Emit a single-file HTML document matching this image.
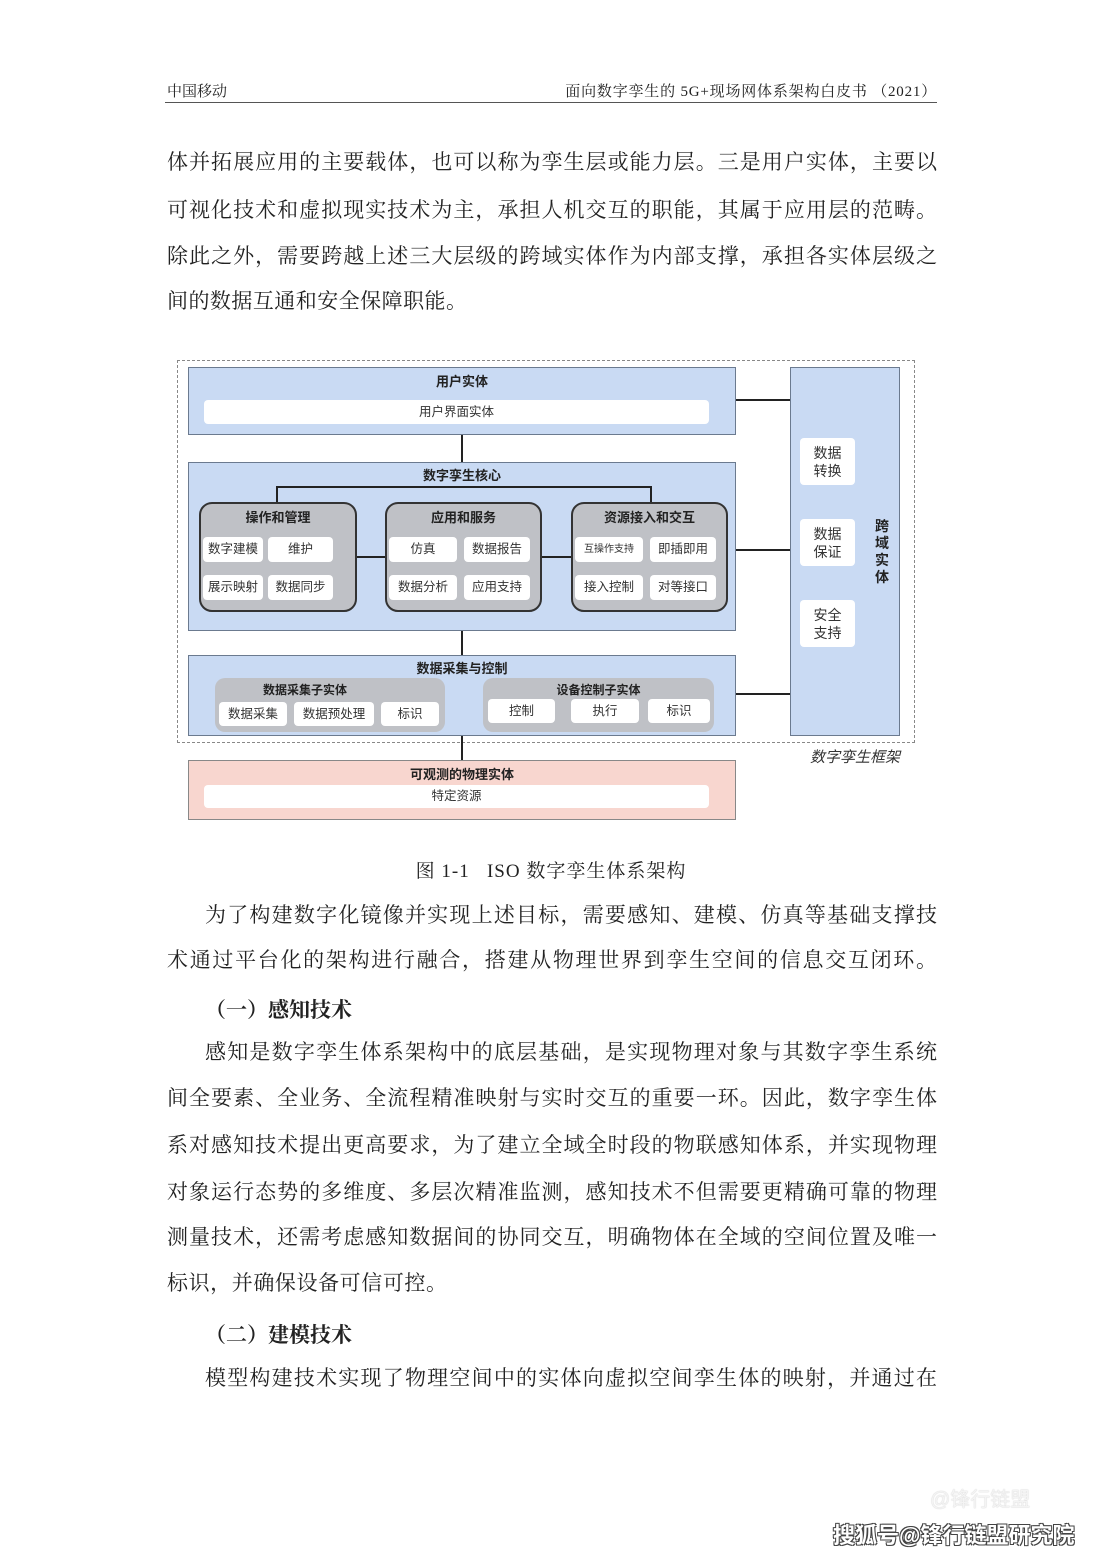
<!DOCTYPE html>
<html><head><meta charset="utf-8"><style>
body{margin:0;background:#fff;}
#p{position:relative;width:1102px;height:1559px;overflow:hidden;background:#fff;font-family:"Liberation Serif","Noto Serif CJK SC",serif;color:#222;}
.a{position:absolute;}
.l{position:absolute;left:167px;width:770px;font-size:21px;line-height:24px;text-align:justify;text-align-last:justify;white-space:nowrap;}
.i{left:205px;width:732px;}
.s{font-family:"Liberation Sans","Noto Sans CJK SC",sans-serif;}
.bx{position:absolute;box-sizing:border-box;border:1.5px solid #6b7a8f;background:#c9daf3;}
.t{position:absolute;font-family:"Liberation Sans","Noto Sans CJK SC",sans-serif;font-weight:bold;font-size:13px;color:#222;text-align:center;}
.w{position:absolute;background:#fff;border-radius:4px;font-family:"Liberation Sans","Noto Sans CJK SC",sans-serif;font-size:12.5px;color:#333;text-align:center;box-sizing:border-box;}
.g{position:absolute;background:#bfc1c6;border:2px solid #333;border-radius:13px;box-sizing:border-box;}
.g2{position:absolute;background:#bfc1c6;border-radius:10px;}
.hl{position:absolute;background:#222;height:2px;}
.vl{position:absolute;background:#222;width:2px;}
</style></head><body><div id="p">
<div class="a" style="left:167px;top:80px;font-size:15px;">中国移动</div>
<div class="a" style="left:540px;top:80px;font-size:15px;width:397px;text-align:right;letter-spacing:0.8px;">面向数字孪生的 5G+现场网体系架构白皮书 （2021）</div>
<div class="a" style="left:165px;top:102px;width:772px;height:1px;background:#555;"></div>

<div class="l" style="top:150px">体并拓展应用的主要载体，也可以称为孪生层或能力层。三是用户实体，主要以</div>
<div class="l" style="top:198px">可视化技术和虚拟现实技术为主，承担人机交互的职能，其属于应用层的范畴。</div>
<div class="l" style="top:244px">除此之外，需要跨越上述三大层级的跨域实体作为内部支撑，承担各实体层级之</div>
<div class="l" style="top:289px;width:300px;text-align-last:justify">间的数据互通和安全保障职能。</div>

<!-- diagram -->
<div class="a" style="left:177px;top:360px;width:736px;height:381px;border:1px dashed #888;"></div>
<div class="bx" style="left:188px;top:367px;width:548px;height:68px;"></div>
<div class="t" style="left:188px;top:371px;width:548px;">用户实体</div>
<div class="w" style="left:204px;top:400px;width:505px;height:24px;line-height:24px;">用户界面实体</div>
<div class="vl" style="left:461px;top:435px;height:27px;"></div>

<div class="bx" style="left:188px;top:462px;width:548px;height:169px;"></div>
<div class="t" style="left:188px;top:465px;width:548px;">数字孪生核心</div>
<div class="hl" style="left:276px;top:486px;width:376px;"></div>
<div class="vl" style="left:276px;top:486px;height:16px;"></div>
<div class="vl" style="left:650px;top:486px;height:16px;"></div>
<div class="hl" style="left:357px;top:556px;width:28px;"></div>
<div class="hl" style="left:542px;top:556px;width:29px;"></div>

<div class="g" style="left:199px;top:502px;width:158px;height:110px;"></div>
<div class="t" style="left:199px;top:507px;width:158px;">操作和管理</div>
<div class="w" style="left:203px;top:537px;width:60px;height:25px;line-height:25px;">数字建模</div>
<div class="w" style="left:268px;top:537px;width:65px;height:25px;line-height:25px;">维护</div>
<div class="w" style="left:203px;top:575px;width:60px;height:25px;line-height:25px;">展示映射</div>
<div class="w" style="left:268px;top:575px;width:65px;height:25px;line-height:25px;">数据同步</div>

<div class="g" style="left:385px;top:502px;width:157px;height:110px;"></div>
<div class="t" style="left:385px;top:507px;width:157px;">应用和服务</div>
<div class="w" style="left:389px;top:537px;width:68px;height:25px;line-height:25px;">仿真</div>
<div class="w" style="left:464px;top:537px;width:66px;height:25px;line-height:25px;">数据报告</div>
<div class="w" style="left:389px;top:575px;width:68px;height:25px;line-height:25px;">数据分析</div>
<div class="w" style="left:464px;top:575px;width:66px;height:25px;line-height:25px;">应用支持</div>

<div class="g" style="left:571px;top:502px;width:157px;height:110px;"></div>
<div class="t" style="left:571px;top:507px;width:157px;">资源接入和交互</div>
<div class="w" style="left:575px;top:537px;width:68px;height:25px;line-height:25px;font-size:10px;">互操作支持</div>
<div class="w" style="left:650px;top:537px;width:66px;height:25px;line-height:25px;">即插即用</div>
<div class="w" style="left:575px;top:575px;width:68px;height:25px;line-height:25px;">接入控制</div>
<div class="w" style="left:650px;top:575px;width:66px;height:25px;line-height:25px;">对等接口</div>

<div class="vl" style="left:461px;top:631px;height:24px;"></div>
<div class="bx" style="left:188px;top:655px;width:548px;height:81px;"></div>
<div class="t" style="left:188px;top:658px;width:548px;">数据采集与控制</div>
<div class="g2" style="left:215px;top:678px;width:230px;height:54px;"></div>
<div class="t" style="left:215px;top:681px;width:180px;font-size:12px;">数据采集子实体</div>
<div class="w" style="left:219px;top:702px;width:68px;height:24px;line-height:24px;">数据采集</div>
<div class="w" style="left:294px;top:702px;width:80px;height:24px;line-height:24px;">数据预处理</div>
<div class="w" style="left:381px;top:702px;width:58px;height:24px;line-height:24px;">标识</div>
<div class="g2" style="left:483px;top:678px;width:231px;height:54px;"></div>
<div class="t" style="left:483px;top:681px;width:231px;font-size:12px;">设备控制子实体</div>
<div class="w" style="left:488px;top:699px;width:67px;height:24px;line-height:24px;">控制</div>
<div class="w" style="left:571px;top:699px;width:68px;height:24px;line-height:24px;">执行</div>
<div class="w" style="left:648px;top:699px;width:62px;height:24px;line-height:24px;">标识</div>

<div class="vl" style="left:461px;top:736px;height:24px;"></div>
<div class="bx" style="left:188px;top:760px;width:548px;height:60px;background:#f8d6cf;border-color:#888;"></div>
<div class="t" style="left:188px;top:764px;width:548px;">可观测的物理实体</div>
<div class="w" style="left:204px;top:785px;width:505px;height:23px;line-height:23px;">特定资源</div>

<div class="hl" style="left:736px;top:399px;width:54px;"></div>
<div class="hl" style="left:736px;top:549px;width:54px;"></div>
<div class="hl" style="left:736px;top:693px;width:54px;"></div>
<div class="bx" style="left:790px;top:367px;width:110px;height:369px;"></div>
<div class="w" style="left:800px;top:438px;width:55px;height:47px;padding-top:6px;line-height:18px;font-size:14px;">数据<br>转换</div>
<div class="w" style="left:800px;top:519px;width:55px;height:47px;padding-top:6px;line-height:18px;font-size:14px;">数据<br>保证</div>
<div class="w" style="left:800px;top:600px;width:55px;height:47px;padding-top:6px;line-height:18px;font-size:14px;">安全<br>支持</div>
<div class="t" style="left:874px;top:518px;width:16px;font-size:14px;line-height:17px;">跨<br>域<br>实<br>体</div>
<div class="a s" style="left:810px;top:746px;font-size:15px;font-style:italic;color:#333;">数字孪生框架</div>

<div class="a" style="left:0;top:856px;width:1102px;text-align:center;font-size:19px;letter-spacing:1px;">图 1-1&nbsp;&nbsp;&nbsp;ISO 数字孪生体系架构</div>

<div class="l i" style="top:903px">为了构建数字化镜像并实现上述目标，需要感知、建模、仿真等基础支撑技</div>
<div class="l" style="top:948px">术通过平台化的架构进行融合，搭建从物理世界到孪生空间的信息交互闭环。</div>
<div class="a" style="left:205px;top:994px;font-size:21px;font-weight:bold;">（一）感知技术</div>
<div class="l i" style="top:1040px">感知是数字孪生体系架构中的底层基础，是实现物理对象与其数字孪生系统</div>
<div class="l" style="top:1086px">间全要素、全业务、全流程精准映射与实时交互的重要一环。因此，数字孪生体</div>
<div class="l" style="top:1133px">系对感知技术提出更高要求，为了建立全域全时段的物联感知体系，并实现物理</div>
<div class="l" style="top:1180px">对象运行态势的多维度、多层次精准监测，感知技术不但需要更精确可靠的物理</div>
<div class="l" style="top:1225px">测量技术，还需考虑感知数据间的协同交互，明确物体在全域的空间位置及唯一</div>
<div class="l" style="top:1271px;width:280px;">标识，并确保设备可信可控。</div>
<div class="a" style="left:205px;top:1319px;font-size:21px;font-weight:bold;">（二）建模技术</div>
<div class="l i" style="top:1366px">模型构建技术实现了物理空间中的实体向虚拟空间孪生体的映射，并通过在</div>

<div class="a s" style="left:930px;top:1483px;font-size:20px;color:#f4f4f4;text-shadow:0 0 1px #bbb;">@锋行链盟</div>
<div class="a s" style="left:833px;top:1518px;font-size:22px;font-weight:bold;color:#fff;text-shadow:1px 1px 0 #444,-1px -1px 0 #444,1px -1px 0 #444,-1px 1px 0 #444;">搜狐号@锋行链盟研究院</div>
</div></body></html>
